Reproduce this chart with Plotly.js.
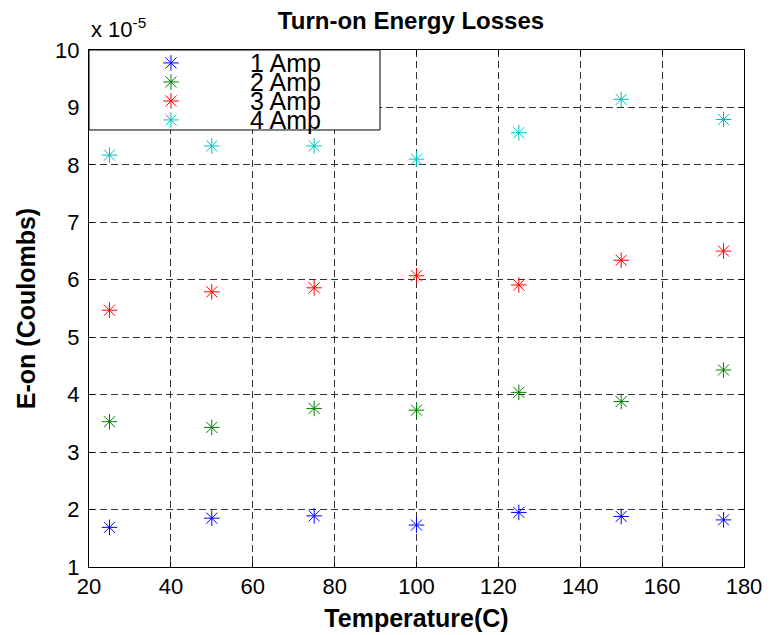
<!DOCTYPE html>
<html>
<head>
<meta charset="utf-8">
<script src="https://cdn.plot.ly/plotly-3.0.1.min.js"></script>
<style>html,body{margin:0;padding:0;background:#fff;}#chart{width:773px;height:635px;}</style>
</head>
<body>
<div id="chart"></div>
<script>
// Temperature (C)
const temperature = [25, 50, 75, 100, 125, 150, 175];
// E-on values in units of 1e-5 Coulombs
const amp1 = [1.69, 1.85, 1.89, 1.73, 1.95, 1.88, 1.82];
const amp2 = [3.53, 3.43, 3.76, 3.73, 4.04, 3.88, 4.43];
const amp3 = [5.47, 5.79, 5.86, 6.07, 5.91, 6.34, 6.50];
const amp4 = [8.17, 8.33, 8.33, 8.10, 8.56, 9.14, 8.79];
const seriesNames = ['1 Amp', '2 Amp', '3 Amp', '4 Amp'];
const seriesColors = ['#0000FF', '#008000', '#FF0000', '#00BFBF'];
const xTicks = [20, 40, 60, 80, 100, 120, 140, 160, 180];
const yTicks = [1, 2, 3, 4, 5, 6, 7, 8, 9, 10];

const font = 'Arial, "Liberation Sans", Helvetica, sans-serif';
const allY = [amp1, amp2, amp3, amp4];

const traces = allY.map((ys, i) => ({
  type: 'scatter',
  mode: 'markers',
  x: temperature,
  y: ys,
  name: '<span style="font-size:25px;baseline-shift:-4px">' + seriesNames[i] + '</span>',
  marker: {
    symbol: 'asterisk-open',
    size: 13,
    color: seriesColors[i],
    line: {color: seriesColors[i], width: 1}
  }
}));

const axisCommon = {
  showline: true,
  linecolor: '#000',
  linewidth: 1,
  mirror: 'ticks',
  ticks: 'inside',
  ticklen: 5,
  tickcolor: '#000',
  tickwidth: 1,
  showgrid: true,
  gridcolor: 'rgba(0,0,0,0.8)',
  gridwidth: 1,
  griddash: '7px,4px',
  zeroline: false,
  tickfont: {family: font, size: 22, color: '#000'}
};

const layout = {
  width: 773,
  height: 635,
  margin: {l: 89, r: 29, t: 50, b: 68, pad: 0},
  paper_bgcolor: '#fff',
  plot_bgcolor: '#fff',
  showlegend: true,
  title: {
    text: '<b>Turn-on Energy Losses</b>',
    font: {family: font, size: 24, color: '#000'},
    x: 0.4916, xref: 'paper', xanchor: 'center',
    y: 0.967, yref: 'container', yanchor: 'middle'
  },
  xaxis: Object.assign({}, axisCommon, {
    range: [20, 180],
    tickvals: xTicks,
    ticktext: xTicks.map(String),
    title: {text: '<b>Temperature(C)</b>', font: {family: font, size: 25, color: '#000'}, standoff: 11}
  }),
  yaxis: Object.assign({}, axisCommon, {
    range: [1, 10],
    tickvals: yTicks,
    ticktext: yTicks.map(String),
    ticklabelstandoff: 4,
    title: {text: '<b>E-on (Coulombs)</b>', font: {family: font, size: 25, color: '#000'}, standoff: 12}
  }),
  legend: {
    x: 0.0046, xanchor: 'left', xref: 'paper',
    y: 1.003, yanchor: 'top', yref: 'paper',
    bgcolor: 'rgba(0,0,0,0)',
    borderwidth: 0,
    itemwidth: 148,
    font: {family: font, size: 12, color: '#000'},
    tracegroupgap: 0
  },
  shapes: [{
    type: 'rect', xref: 'paper', yref: 'paper',
    x0: 0, x1: 0.4443, y0: 0.8453, y1: 1,
    fillcolor: '#fff', line: {color: '#000', width: 1},
    layer: 'above'
  }],
  annotations: [{
    xref: 'paper', yref: 'paper', x: 0, y: 1,
    xanchor: 'left', yanchor: 'bottom', xshift: 0, yshift: 6,
    text: 'x 10<sup>-5</sup>', showarrow: false,
    font: {family: font, size: 22, color: '#000'}
  }]
};

Plotly.newPlot('chart', traces, layout, {displayModeBar: false, staticPlot: true});
</script>
</body>
</html>
